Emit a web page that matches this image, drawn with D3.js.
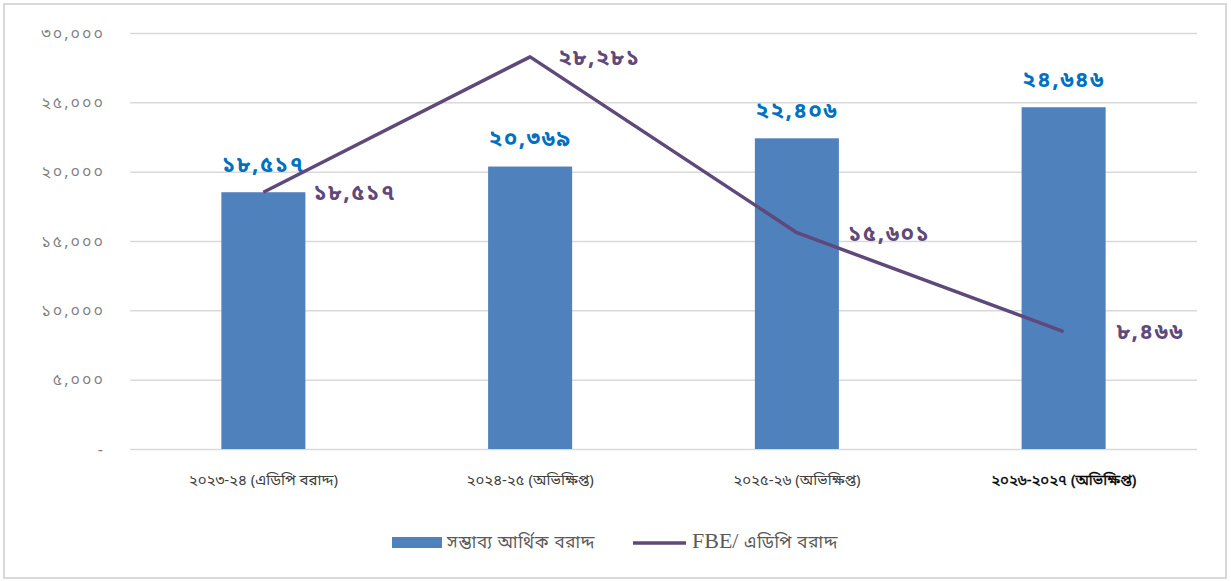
<!DOCTYPE html>
<html>
<head>
<meta charset="utf-8">
<script src="https://cdn.jsdelivr.net/npm/d3@7"></script>
<style>
  body { margin: 0; background: #fff; }
  text { font-family: "Noto Sans Bengali", "Vrinda", "Nirmala UI", "Noto Sans", sans-serif; }
</style>
</head>
<body>
<svg id="root" width="1231" height="581"></svg>
<script>
//Chart data
const categories = ["২০২৩-২৪ (এডিপি বরাদ্দ)", "২০২৪-২৫ (অভিক্ষিপ্ত)", "২০২৫-২৬ (অভিক্ষিপ্ত)", "২০২৬-২০২৭ (অভিক্ষিপ্ত)"];
const barValues = [18517, 20369, 22406, 24646];   //সম্ভাব্য আর্থিক বরাদ্দ
const lineValues = [18517, 28281, 15601, 8466];   //FBE/ এডিপি বরাদ্দ
const yTicks = [0, 5000, 10000, 15000, 20000, 25000, 30000];
const yTickLabels = ["-", "৫,০০০", "১০,০০০", "১৫,০০০", "২০,০০০", "২৫,০০০", "৩০,০০০"];
const barSeriesName = "সম্ভাব্য আর্থিক বরাদ্দ";
const lineSeriesName = "এডিপি বরাদ্দ";

//Western digits -> Bengali digits for data labels
const bnDigits = "০১২৩৪৫৬৭৮৯";
const toBangla = n => d3.format(",")(n).replace(/[0-9]/g, d => bnDigits[+d]);

const barColor = "#4F81BD";
const lineColor = "#5F497A";
const gridColor = "#d9d9d9";

const svg = d3.select("#root");

//Outer frame
svg.append("rect")
    .attr("x", 4).attr("y", 4)
    .attr("width", 1222).attr("height", 574)
    .attr("fill", "#fff")
    .attr("stroke", gridColor)
    .attr("stroke-width", 2);

//Scales
const x = d3.scaleBand()
    .domain(categories)
    .range([130, 1197])
    .paddingInner(0.685)
    .paddingOuter(0.3425);

const y = d3.scaleLinear()
    .domain([0, 30000])
    .range([449, 33]);

//Gridlines + y labels
const yAxis = svg.append("g")
    .attr("transform", "translate(130,0)")
    .call(d3.axisLeft(y).tickValues(yTicks).tickSize(-1067).tickPadding(25)
        .tickFormat((d, i) => yTickLabels[i]));
yAxis.select(".domain").remove();
yAxis.selectAll(".tick line").attr("stroke", gridColor).attr("stroke-width", 1.5);
yAxis.selectAll(".tick text")
    .attr("fill", "#7f7f7f")
    .style("font-size", "16px")
    .style("letter-spacing", "2px");

//Category labels (last one is darker in the original)
const xAxis = svg.append("g")
    .attr("transform", "translate(0,449)")
    .call(d3.axisBottom(x).tickSize(0).tickPadding(25));
xAxis.select(".domain").remove();
xAxis.selectAll(".tick text")
    .attr("fill", (d, i) => i === 3 ? "#000" : "#404040")
    .attr("stroke", (d, i) => i === 3 ? "#000" : "none")
    .attr("stroke-width", 0.35)
    .style("font-size", "15px");

//Bars
svg.append("g")
    .selectAll("rect")
    .data(barValues)
    .enter()
    .append("rect")
    .attr("x", (d, i) => x(categories[i]))
    .attr("y", d => y(d))
    .attr("width", x.bandwidth())
    .attr("height", d => y(0) - y(d))
    .attr("fill", barColor);

//Bar labels
svg.append("g")
    .selectAll("text")
    .data(barValues)
    .enter()
    .append("text")
    .attr("x", (d, i) => x(categories[i]) + x.bandwidth() / 2)
    .attr("y", d => y(d) - 26)
    .attr("text-anchor", "middle")
    .attr("dominant-baseline", "middle")
    .attr("fill", "#0070C0")
    .style("font-size", "22px")
    .style("letter-spacing", "1.5px")
    .style("font-weight", "bold")
    .text(d => toBangla(d));

//Line
const line = d3.line()
    .x((d, i) => x(categories[i]) + x.bandwidth() / 2)
    .y(d => y(d));

svg.append("path")
    .datum(lineValues)
    .attr("d", line)
    .attr("fill", "none")
    .attr("stroke", lineColor)
    .attr("stroke-width", 3.5)
    .attr("stroke-linejoin", "round");

//Line labels (second one was nudged closer in the original)
const labelShift = [50, 28, 51, 53];
svg.append("g")
    .selectAll("text")
    .data(lineValues)
    .enter()
    .append("text")
    .attr("x", (d, i) => x(categories[i]) + x.bandwidth() / 2 + labelShift[i])
    .attr("y", d => y(d) + 2)
    .attr("dominant-baseline", "middle")
    .attr("fill", lineColor)
    .style("font-size", "22px")
    .style("letter-spacing", "1.5px")
    .style("font-weight", "bold")
    .text(d => toBangla(d));

//Legend
const legend = svg.append("g");
legend.append("rect")
    .attr("x", 392).attr("y", 537)
    .attr("width", 50).attr("height", 11)
    .attr("fill", barColor);
legend.append("text")
    .attr("x", 447).attr("y", 543)
    .attr("dominant-baseline", "middle")
    .attr("fill", "#595959")
    .style("font-size", "17px")
    .style("letter-spacing", "0.8px")
    .text(barSeriesName);
legend.append("line")
    .attr("x1", 633).attr("x2", 686)
    .attr("y1", 543).attr("y2", 543)
    .attr("stroke", lineColor)
    .attr("stroke-width", 3.5);
const lineLegendText = legend.append("text")
    .attr("x", 692).attr("y", 543)
    .attr("dominant-baseline", "middle")
    .attr("fill", "#595959");
lineLegendText.append("tspan")
    .style("font-family", "'Liberation Serif', 'DejaVu Serif', serif")
    .style("font-size", "22px")
    .text("FBE/ ");
lineLegendText.append("tspan")
    .style("font-size", "17px")
    .style("letter-spacing", "0.8px")
    .text(lineSeriesName);
</script>
</body>
</html>
